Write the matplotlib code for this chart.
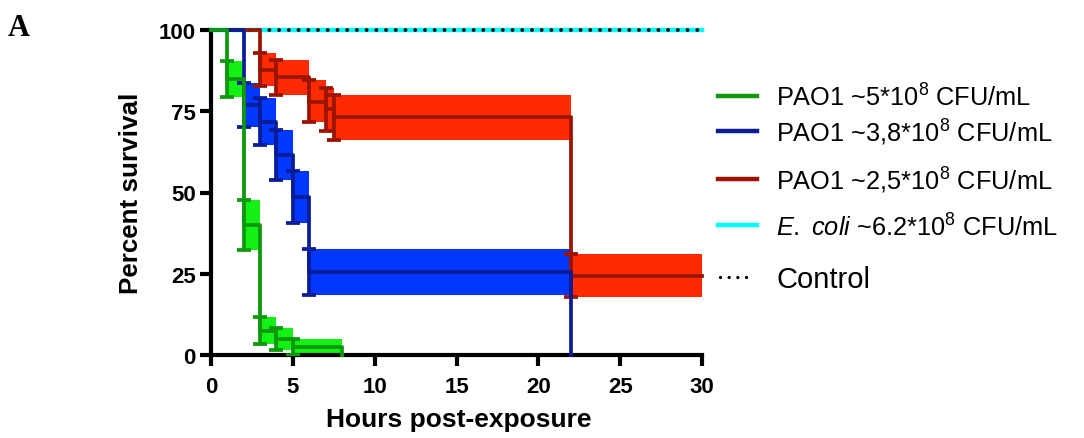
import matplotlib
matplotlib.use("Agg")
import matplotlib.pyplot as plt
from matplotlib.lines import Line2D

plt.rcParams['font.family'] = ['Liberation Sans', 'DejaVu Sans']
plt.rcParams['mathtext.fontset'] = 'custom'
plt.rcParams['mathtext.rm'] = 'Liberation Sans'
plt.rcParams['mathtext.it'] = 'Liberation Sans:italic'

# Kaplan-Meier steps (hours, % survival, +/- SE band)
green_t = [0, 1, 2, 3, 4, 5, 8]
green_s = [100, 85, 40, 7.5, 5, 2.5, 0]
green_lo = [100, 79.4, 32.3, 3.3, 1.6, 0, 0]
green_hi = [100, 90.6, 47.7, 11.7, 8.4, 5, 0]

blue_t = [0, 2, 3, 4, 5, 6, 22]
blue_s = [100, 76.9, 71.8, 61.5, 48.7, 25.6, 0]
blue_lo = [100, 70.2, 64.6, 53.7, 40.7, 18.6, 0]
blue_hi = [100, 83.7, 79.0, 69.3, 56.7, 32.6, 0]

red_t = [0, 3, 4, 6, 7, 7.5, 22, 30]
red_s = [100, 87.8, 85.4, 78.0, 75.6, 73.2, 24.4, 24.4]
red_lo = [100, 82.7, 79.9, 71.6, 68.9, 66.3, 17.7, 17.7]
red_hi = [100, 92.9, 90.9, 84.5, 82.3, 80.1, 31.1, 31.1]

ecoli_t = [0, 30]
ecoli_s = [100, 100]

series = [
    # times, surv, lo, hi, line colour, band colour, errorbar points, z
    (red_t, red_s, red_lo, red_hi, '#9a1400', '#ff2a00', slice(1, 7), 3),
    (blue_t, blue_s, blue_lo, blue_hi, '#0a1c96', '#0038ff', slice(1, 6), 4),
    (green_t, green_s, green_lo, green_hi, '#0e980e', '#14f014', slice(1, 6), 5),
]

labels = ["PAO1 ~5*10$^{8}$ CFU/mL",
          "PAO1 ~3,8*10$^{8}$ CFU/mL",
          "PAO1 ~2,5*10$^{8}$ CFU/mL",
          "$\\mathit{E.}$ $\\mathit{coli}$ ~6.2*10$^{8}$ CFU/mL",
          "Control"]

fig = plt.figure(figsize=(10.84, 4.39), dpi=100)
ax = fig.add_axes([211 / 1084, 83 / 439, 491 / 1084, 325 / 439])

ax.plot(ecoli_t, ecoli_s, color='#00ffff', lw=3.2, clip_on=False, zorder=1)
ax.plot(ecoli_t, ecoli_s, color='black', lw=2.8, ls=(0, (0.001, 2.5)),
        dash_capstyle='round', clip_on=False, zorder=2)

lw = 2.7
for t, s, lo, hi, lc, bc, eb, z in series:
    ax.fill_between(t, lo, hi, step='post', color=bc, lw=0, zorder=z - 2.5)
    ax.step(t, s, where='post', color=lc, lw=lw, clip_on=False, zorder=z)
    ax.errorbar(t[eb], s[eb],
                yerr=[[a - b for a, b in zip(s[eb], lo[eb])],
                      [b - a for a, b in zip(s[eb], hi[eb])]],
                fmt='none', ecolor=lc, elinewidth=lw, capsize=4.7,
                capthick=lw, zorder=z)

ax.set_xlim(0, 30)
ax.set_ylim(0, 100)
ax.set_xticks([0, 5, 10, 15, 20, 25, 30])
ax.set_yticks([0, 25, 50, 75, 100])
for sp in ['top', 'right']:
    ax.spines[sp].set_visible(False)
for sp in ['left', 'bottom']:
    ax.spines[sp].set_linewidth(3)
ax.tick_params(width=3, length=8, labelsize=16)
ax.tick_params(axis='x', pad=7)
ax.tick_params(axis='y', pad=3)
for lab in ax.get_xticklabels() + ax.get_yticklabels():
    lab.set_fontweight('bold')

fig.text(131 / 1084, 1 - 193 / 439, "Percent survival", rotation=90,
         ha='center', va='center', fontsize=18.7, fontweight='bold')
fig.text(459 / 1084, 1 - 427 / 439, "Hours post-exposure",
         ha='center', va='baseline', fontsize=19, fontweight='bold')
fig.text(8 / 1084, 1 - 36 / 439, "A", family='Liberation Serif',
         fontsize=22, fontweight='bold', ha='left', va='baseline')

# legend drawn by hand to follow the original spacing
leg_colors = ['#0e980e', '#0a1c96', '#9a1400', '#00ffff']
line_y = [96.7, 131.7, 180, 225.7]
base_y = [106.7, 141.7, 190, 236.7]
for c, ly, by, lab in zip(leg_colors, line_y, base_y, labels):
    fig.add_artist(Line2D([718 / 1084, 757 / 1084], [1 - ly / 439] * 2,
                          color=c, lw=3.2, transform=fig.transFigure))
    fig.text(776 / 1084, 1 - by / 439, lab, fontsize=18.3, va='baseline')
fig.add_artist(Line2D([720 / 1084, 752 / 1084], [1 - 278 / 439] * 2,
                      color='black', lw=2.4, ls=(0, (0.001, 2.6)),
                      dash_capstyle='round', transform=fig.transFigure))
fig.text(776 / 1084, 1 - 288.3 / 439, labels[4], fontsize=21, va='baseline')

fig.savefig('out.png', dpi=100)
